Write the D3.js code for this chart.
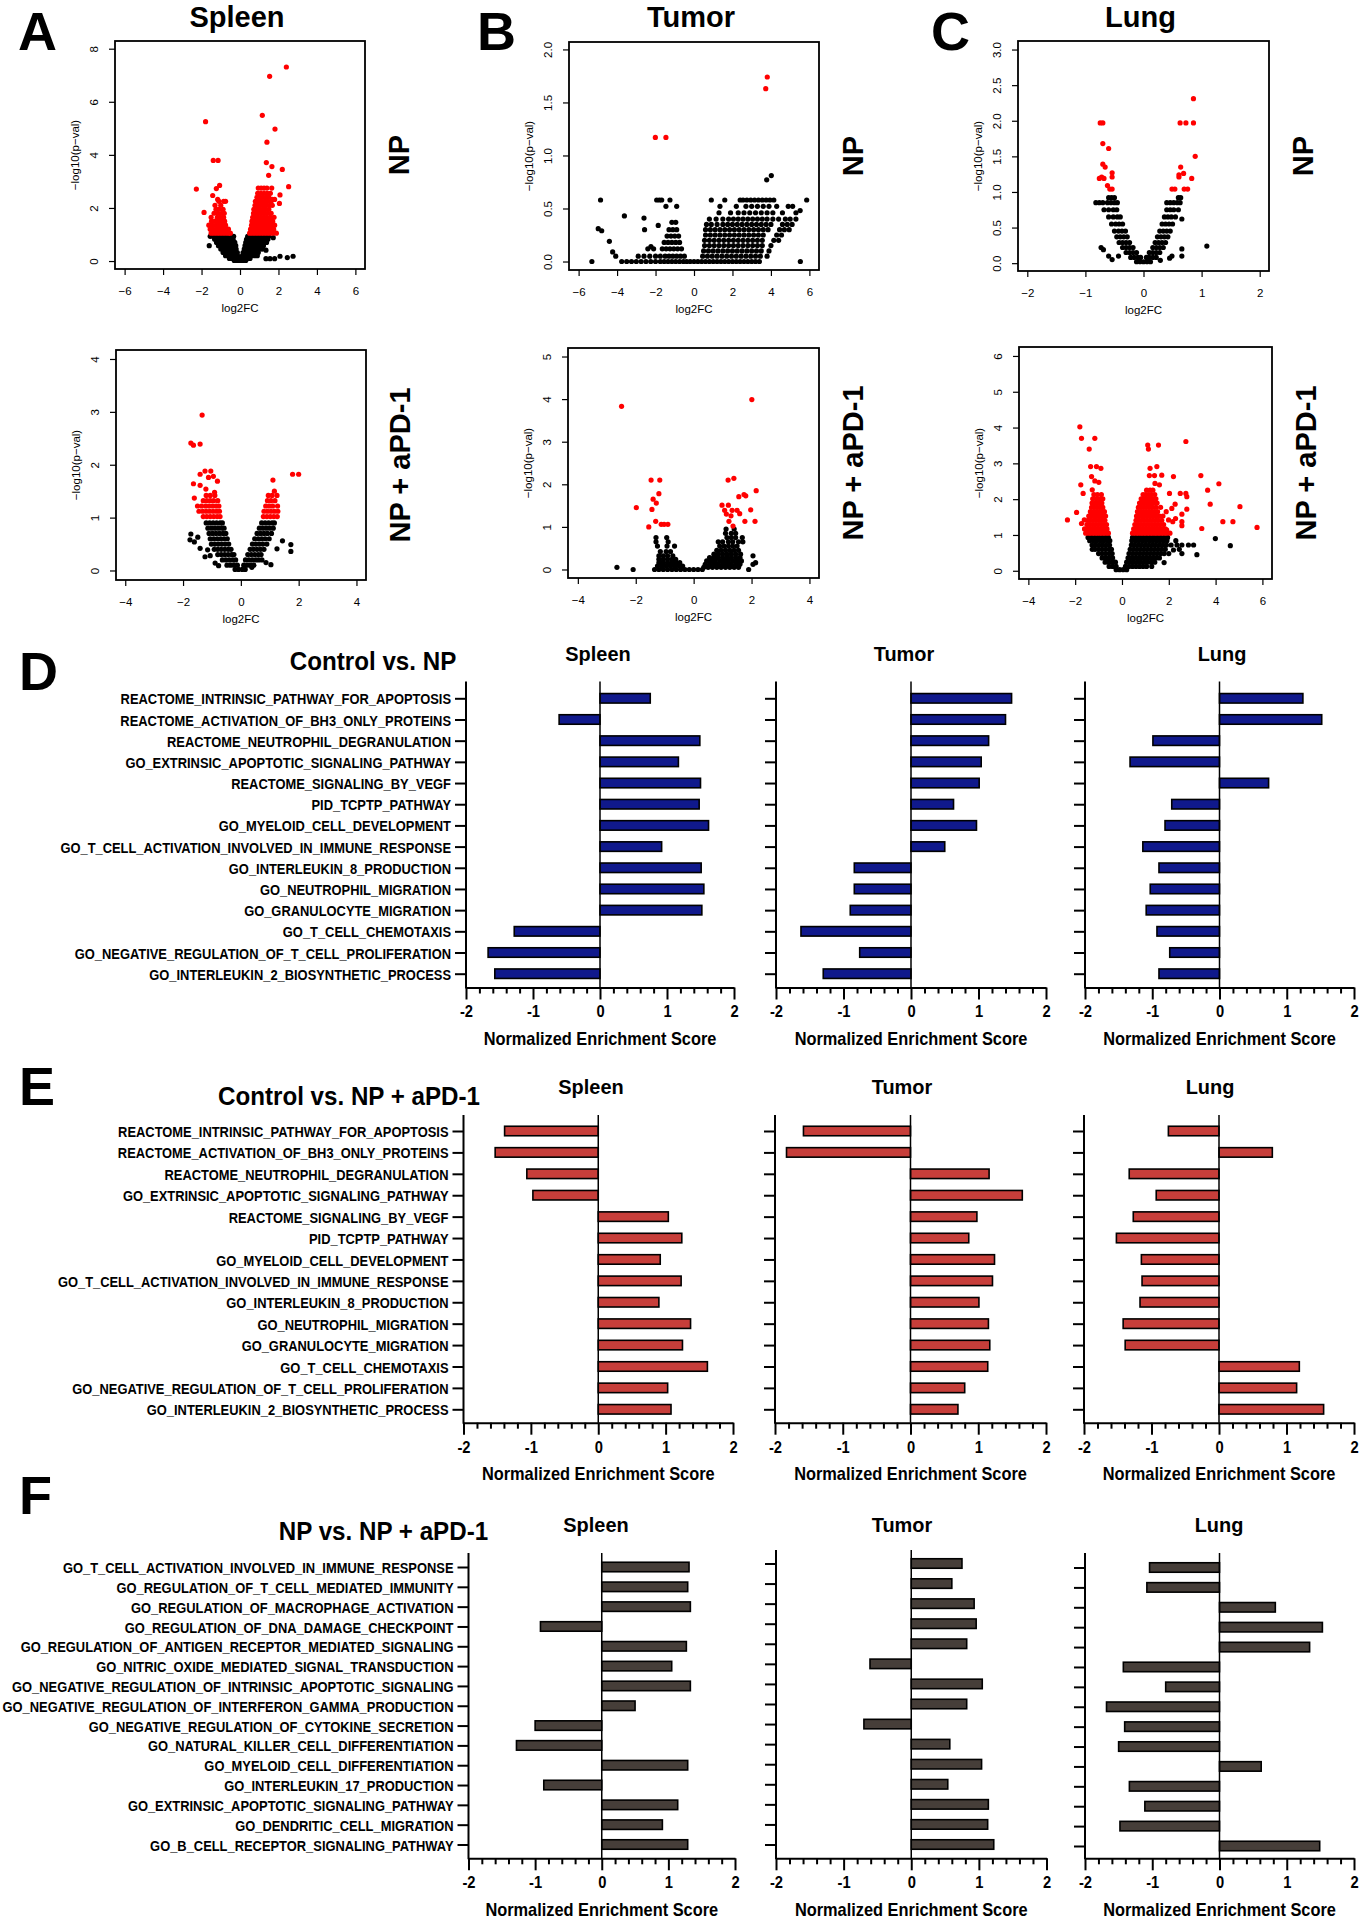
<!DOCTYPE html>
<html>
<head>
<meta charset="utf-8">
<script src="https://cdn.jsdelivr.net/npm/d3@7"></script>
<style>
  body { margin: 0; background: #fff; }
  svg { display: block; }
</style>
</head>
<body>
<script>
// ---------- volcano data: each row = [-log10(p), log2FC, log2FC, ...] ----------
const spleenNP = [
  [0.02, -0.3,-0.18,-0.06,0.06,0.18,0.3],
  [0.09, 1.35,1.56,1.8],
  [0.1, -0.55,-0.42,-0.3,-0.12,0.1,0.24,0.38,0.52],
  [0.13, 2.46],
  [0.18, 2.08,2.76],
  [0.2, -0.75,-0.6,-0.45,-0.3,-0.12,0.12,0.28,0.44,0.6,0.76,0.9],
  [0.32, -0.88,-0.72,-0.56,-0.4,-0.25,-0.14,0.16,0.3,0.46,0.62,0.78,0.95],
  [0.41, 1.35],
  [0.45, -1.0,-0.84,-0.68,-0.52,-0.36,-0.2,0.22,0.38,0.54,0.7,0.86,1.02,1.15],
  [0.58, -1.6,-1.12,-0.96,-0.8,-0.64,-0.48,-0.32,-0.22,0.26,0.42,0.58,0.74,0.9,1.06,1.22],
  [0.7, -1.22,-1.06,-0.9,-0.74,-0.58,-0.42,-0.27,0.3,0.46,0.62,0.78,0.94,1.1,1.26,1.38],
  [0.82, -1.32,-1.16,-1.0,-0.84,-0.68,-0.52,-0.36,0.34,0.5,0.66,0.82,0.98,1.14,1.3,1.45],
  [0.88, 1.73],
  [0.93, -1.55,-1.4,-1.24,-1.08,-0.92,-0.76,-0.6,-0.44,-0.33,0.4,0.56,0.72,0.88,1.04,1.2,1.36,1.5],
  [1.05, -1.5,-1.35,-1.2,-1.05,-0.9,-0.75,-0.6,-0.5,0.5,0.65,0.8,0.95,1.1,1.25,1.4,1.55,1.7,1.89],
  [1.2, -1.55,-1.4,-1.22,-1.05,-0.88,-0.72,-0.6,0.55,0.7,0.85,1.0,1.15,1.3,1.45,1.6,1.75],
  [1.35, -1.62,-1.45,-1.25,-1.1,-0.92,-0.75,0.6,0.75,0.9,1.05,1.2,1.35,1.5,1.65,1.8],
  [1.5, -1.48,-1.3,-1.12,-0.95,-0.8,0.62,0.78,0.92,1.08,1.22,1.38,1.52,1.7],
  [1.65, -1.5,-1.18,-1.02,-0.85,0.66,0.8,0.95,1.1,1.25,1.4,1.58,1.77],
  [1.8, -1.35,-1.15,-0.95,-0.82,0.7,0.85,1.0,1.15,1.3,1.45,1.62],
  [1.83, -1.87],
  [1.95, -1.25,-1.1,-0.88,0.72,0.88,1.02,1.18,1.32,1.5],
  [2.1, -1.3,-1.0,0.78,0.92,1.08,1.22,1.38,1.55,1.68],
  [2.17, 2.05],
  [2.25, -1.1,-0.85,-0.75,0.8,0.95,1.1,1.28,1.45,1.62],
  [2.32, -1.16,1.68,1.8],
  [2.4, 0.88,1.02,1.18,1.35,1.5],
  [2.47, -1.42],
  [2.49, 2.08],
  [2.55, 0.92,1.08,1.25,1.42,1.58],
  [2.71, -2.27],
  [2.73, -1.23],
  [2.75, 0.95,1.1,1.25,1.4,1.65],
  [2.8, 2.53],
  [2.85, -1.06],
  [3.23, 1.49],
  [3.45, 2.2],
  [3.56, 1.66],
  [3.71, 1.37],
  [3.79, -1.39,-1.14],
  [4.48, 1.4],
  [4.97, 1.82],
  [5.25, -1.79],
  [5.49, 1.16],
  [6.96, 1.54],
  [7.31, 2.41]
];

const tumorNP = [
  [0, -5.31,-3.76,-3.5,-3.25,-3.0,-2.75,-2.5,-2.25,-2.0,-1.75,-1.55,-1.35,-1.15,-0.95,-0.75,-0.55,-0.38,-0.2,0,0.2,0.4,0.6,0.8,1.0,1.2,1.4,1.6,1.8,2.0,2.2,2.4,2.6,2.8,3.0,3.2,3.4,5.53],
  [0.05, -4.07,-2.9,-2.6,-2.3,-2.0,-1.75,-1.5,-1.3,-1.1,-0.9,-0.7,-0.5,0.45,0.7,0.95,1.2,1.45,1.7,1.95,2.2,2.45,2.7,2.95,3.2,3.45,3.8],
  [0.09, -4.23],
  [0.1, 0.5,0.75,1.0,1.25,1.5,1.75,2.0,2.25,2.5,2.75,3.0,3.25,3.5,3.9],
  [0.12, -2.4,-2.1,-1.65,-1.45,-1.25,-1.05,-0.85,-0.65],
  [0.14, -2.24],
  [0.15, 0.55,0.8,1.05,1.3,1.55,1.8,2.05,2.3,2.55,2.8,3.05,3.3,3.55,4.0],
  [0.18, -1.55,-1.35,-1.15,-0.95,-0.75],
  [0.19, -4.4],
  [0.2, 0.55,0.8,1.05,1.3,1.55,1.8,2.05,2.3,2.55,2.8,3.05,3.3,3.55,4.15,4.4],
  [0.24, -1.4,-1.2,-1.0,-0.8],
  [0.25, 0.6,0.85,1.1,1.35,1.6,1.85,2.1,2.35,2.6,2.85,3.1,3.35,3.6,4.3,4.55],
  [0.29, -4.8],
  [0.3, -2.57,-1.3,-1.1,-0.9,0.6,0.85,1.1,1.35,1.6,1.85,2.1,2.35,2.6,2.85,3.1,3.35,3.6,3.85,4.45,4.7,4.95],
  [0.31, -4.98],
  [0.34, -1.86],
  [0.35, 0.65,0.9,1.2,1.5,1.75,2.0,2.25,2.5,2.75,3.0,3.25,3.5,3.75,4.0,4.6,4.85,5.1],
  [0.37, -1.15,-0.95],
  [0.4, 0.8,1.15,1.5,1.8,2.05,2.3,2.55,2.8,3.05,3.3,3.55,3.8,4.1,4.4,4.75,5.0,5.3],
  [0.41, -2.6],
  [0.43, -3.62],
  [0.46, 1.3,1.9,2.3,2.6,2.9,3.2,3.5,3.8,4.1,4.6,5.3],
  [0.48, 5.52],
  [0.52, -1.46,-0.9,1.35,2.2,2.7,3.0,3.3,3.6,3.9,4.3,4.9,5.13],
  [0.58, -4.86,-1.94,-1.8,-1.68,-1.25,0.9,1.6,2.4,2.55,2.75,2.95,3.15,3.35,3.55,3.75,3.95,4.15,5.86],
  [0.77, 3.78],
  [0.81, 4.02],
  [1.17, -2.01,-1.46],
  [1.63, 3.73],
  [1.74, 3.81]
];

const lungNP = [
  [0.02, -0.12,-0.06,0,0.06,0.12],
  [0.04, 0.29],
  [0.05, -0.54],
  [0.07, 0.45],
  [0.08, -0.22,-0.16,-0.1,-0.05,0.05,0.1,0.16,0.22],
  [0.1, -0.6,-0.43,0.49,0.66],
  [0.15, -0.3,-0.24,-0.18,-0.12,0.1,0.16,0.22,0.28],
  [0.19, -0.69],
  [0.2, 0.66],
  [0.22, -0.73,-0.36,-0.3,-0.24,-0.18,0.16,0.22,0.28,0.34],
  [0.24, 1.09],
  [0.29, -0.42,-0.36,-0.3,-0.24,0.2,0.26,0.32,0.38],
  [0.37, -0.46,-0.4,-0.34,-0.28,0.24,0.3,0.36,0.42],
  [0.45, -0.5,-0.43,-0.37,-0.31,0.28,0.34,0.4,0.46],
  [0.55, -0.55,-0.48,-0.42,-0.36,0.32,0.38,0.44,0.5],
  [0.62, 0.66],
  [0.65, -0.6,-0.52,-0.45,-0.4,0.36,0.42,0.48,0.55],
  [0.75, -0.68,-0.6,-0.52,-0.46,0.4,0.46,0.52,0.6],
  [0.85, -0.82,-0.76,-0.7,-0.62,-0.56,-0.5,-0.45,0.4,0.46,0.52,0.58,0.63],
  [0.92, -0.6,-0.55,-0.5,0.6,0.64],
  [1.04, -0.58,-0.54,0.49,0.54,0.7,0.76],
  [1.09, -0.62],
  [1.19, -0.76,-0.68,0.83],
  [1.21, -0.72,-0.54,0.61],
  [1.24, 0.61],
  [1.26, 0.69],
  [1.27, -0.54],
  [1.35, -0.66,0.64],
  [1.39, -0.7],
  [1.5, 0.89],
  [1.61, -0.6],
  [1.68, -0.7],
  [1.97, -0.745,-0.7,0.63,0.73,0.86],
  [2.31, 0.86]
];

const spleenAPD = [
  [0.02, -0.2,-0.08,0.05,0.15],
  [0.06, 0.38],
  [0.09, -0.77],
  [0.1, -0.48,-0.36,-0.24,-0.12,0.1,0.22,0.34,0.45],
  [0.11, 1.04],
  [0.14, -0.89],
  [0.15, 0.87],
  [0.2, -0.64,-0.52,-0.4,-0.28,-0.18,0.16,0.28,0.4,0.52,0.62,0.73],
  [0.26, -1.24],
  [0.28, -1.06],
  [0.3, -0.8,-0.68,-0.56,-0.44,-0.32,-0.24,0.24,0.36,0.48,0.6,0.7],
  [0.36, 1.73],
  [0.39, -1.15],
  [0.4, -0.92,-0.8,-0.68,-0.56,-0.44,-0.34,0.32,0.44,0.56,0.68,0.8],
  [0.41, 1.25],
  [0.42, -1.41],
  [0.49, 1.73],
  [0.5, -1.02,-0.9,-0.78,-0.66,-0.54,-0.42,0.4,0.52,0.64,0.76,0.9],
  [0.54, -1.61],
  [0.56, 1.44],
  [0.58, -1.76],
  [0.6, -1.06,-0.94,-0.82,-0.7,-0.58,-0.47,0.48,0.6,0.72,0.84,0.98],
  [0.63, -1.49],
  [0.69, -1.73],
  [0.7, -1.1,-0.98,-0.86,-0.74,-0.62,-0.52,0.56,0.68,0.8,0.92,1.06],
  [0.8, -1.14,-1.02,-0.9,-0.78,-0.66,-0.58,0.64,0.76,0.88,1.0,1.12],
  [0.9, -1.2,-1.08,-0.96,-0.84,-0.72,-0.64,0.72,0.84,0.96,1.08,1.16],
  [1.02, -1.3,-1.18,-1.06,-0.94,-0.82,-0.72,0.78,0.9,1.02,1.14,1.26],
  [1.12, -1.45,-1.32,-1.2,-1.08,-0.96,-0.84,-0.74,0.8,0.92,1.04,1.16,1.28],
  [1.22, -1.5,-1.36,-1.22,-1.1,-0.98,-0.86,-0.76,0.86,0.98,1.1,1.27],
  [1.32, -1.3,-1.18,-1.06,-0.94,-0.8,0.92,1.04,1.18],
  [1.37, -1.61],
  [1.42, -1.2,-1.06,-0.9,0.95,1.08,1.25],
  [1.48, -0.91],
  [1.5, 1.16],
  [1.54, -1.21],
  [1.61, -1.41],
  [1.64, -1.64],
  [1.69, -0.81],
  [1.71, 1.11],
  [1.76, -1.12],
  [1.78, -0.95],
  [1.82, -1.41,1.79,2.0],
  [1.88, -1.24,-1.04],
  [2.37, -1.64],
  [2.39, -1.41],
  [2.41, -1.73],
  [2.94, -1.34]
];

const tumorAPD = [
  [0, -2.09,-1.35,-1.2,-1.05,-0.9,-0.75,-0.6,-0.45,-0.3,-0.15,0,0.15,0.3,1.9],
  [0.05, -2.65,0.35,0.5,0.65,0.8,0.95,1.1,1.25,1.4,1.55],
  [0.08, -1.25,-1.1,-0.95,-0.8,-0.65,-0.5,-0.38],
  [0.12, 0.4,0.55,0.7,0.85,1.0,1.15,1.3,1.45,1.6,2.05],
  [0.16, -1.2,-1.05,-0.9,-0.75,-0.6,-0.48,2.14],
  [0.2, 0.45,0.6,0.75,0.9,1.05,1.2,1.35,1.5,1.65],
  [0.24, -1.2,-1.05,-0.9,-0.75,-0.62],
  [0.28, 0.55,0.7,0.85,1.0,1.15,1.3,1.45,1.6],
  [0.32, -1.2,-1.05,-0.9,-0.72,2.05],
  [0.36, 0.7,0.85,1.0,1.15,1.3,1.45,1.62],
  [0.42, -1.15,-0.95,-0.8],
  [0.45, 0.8,0.95,1.1,1.25,1.4,1.55],
  [0.55, -1.25,-0.92,-0.66,0.9,1.05,1.2,1.35,1.5],
  [0.65, -1.3,-0.88,0.85,1.0,1.2,1.35,1.55,1.7],
  [0.75, -1.3,-0.93,1.15,1.3,1.45,1.68],
  [0.85, 1.1,1.3,1.45],
  [0.95, 1.12,1.4],
  [1.0, -1.55],
  [1.02, 1.36],
  [1.06, -1.12,-1.02,-0.89],
  [1.13, -1.31,1.22,1.77,2.12],
  [1.26, 1.29],
  [1.3, 1.13],
  [1.31, 1.59],
  [1.39, 1.07,1.33,1.5],
  [1.4, 1.97],
  [1.41, -1.44],
  [1.45, -1.98],
  [1.51, 0.98,1.2],
  [1.56, -1.29],
  [1.65, -1.4],
  [1.71, 1.56],
  [1.73, 1.8],
  [1.76, 1.74],
  [1.78, -1.2],
  [1.85, 2.16],
  [2.1, -1.47,-1.17,1.19],
  [2.14, 1.39],
  [3.83, -2.49],
  [3.99, 2.01]
];

const lungAPD = [
  [0.03, -0.25,-0.1,0.05,0.2],
  [0.12, -0.55,-0.4,-0.25,0.15,0.3,0.45,0.6,0.75,0.9,1.05,1.27],
  [0.23, 1.8],
  [0.24, -0.72,-0.57,-0.42,-0.28,0.2,0.35,0.5,0.65,0.8,0.95,1.1,1.25,1.4],
  [0.36, -0.85,-0.7,-0.55,-0.4,0.26,0.41,0.56,0.71,0.86,1.01,1.16,1.31,1.46,1.6],
  [0.45, 3.2],
  [0.48, -1.0,-0.85,-0.7,-0.55,-0.42,0.3,0.45,0.6,0.75,0.9,1.05,1.2,1.35,1.5,1.65,1.8,2.0,2.56],
  [0.58, 2.2],
  [0.6, -1.27,-1.15,-1.0,-0.85,-0.7,-0.55,-0.45,0.35,0.5,0.65,0.8,0.95,1.1,1.25,1.4,1.55,1.7,1.85,2.45],
  [0.7, 4.63],
  [0.72, -1.28,-1.13,-0.98,-0.83,-0.68,-0.53,0.4,0.55,0.7,0.85,1.0,1.15,1.3,1.45,1.6,1.75,1.9,2.1,2.35,2.56,2.84,3.06],
  [0.84, -1.38,-1.23,-1.08,-0.93,-0.78,-0.63,-0.52,0.42,0.57,0.72,0.87,1.02,1.17,1.32,1.47,1.62,1.77,1.92,2.3],
  [0.9, 3.99],
  [0.93, -1.45,-1.3,-1.15,-1.0,-0.85,-0.7,-0.58,0.45,0.6,0.75,0.9,1.05,1.2,1.35,1.5,1.65,1.8,1.95],
  [1.05, -1.55,-1.42,-1.3,-1.18,-1.06,-0.94,-0.82,-0.7,-0.58,0.45,0.58,0.7,0.82,0.94,1.06,1.18,1.3,1.42,1.54,1.66,1.78,1.9,2.05],
  [1.14, 1.91],
  [1.17, -1.6,-1.48,-1.36,-1.24,-1.12,-1.0,-0.88,-0.76,-0.64,0.5,0.62,0.74,0.86,0.98,1.1,1.22,1.34,1.46,1.58,1.7,1.85],
  [1.18, 3.41],
  [1.21, 5.77],
  [1.26, 2.56],
  [1.29, -1.5,-1.38,-1.26,-1.14,-1.02,-0.9,-0.78,-0.66,0.55,0.67,0.79,0.91,1.03,1.15,1.27,1.39,1.51,1.63,1.78],
  [1.32, -1.73],
  [1.37, 2.17,2.56,4.31,4.74],
  [1.41, -1.45,-1.33,-1.21,-1.09,-0.97,-0.85,-0.73,0.6,0.72,0.84,0.96,1.08,1.2,1.32,1.44,1.56,1.7],
  [1.42, -2.33,-1.61,1.99],
  [1.46, 2.29],
  [1.53, -1.42,-1.3,-1.18,-1.06,-0.94,-0.82,-0.7,0.62,0.74,0.86,0.98,1.1,1.22,1.34,1.46,1.6,1.75],
  [1.58, 2.56],
  [1.63, -1.94],
  [1.65, -1.35,-1.22,-1.1,-0.98,-0.86,-0.75,0.66,0.78,0.9,1.02,1.14,1.26,1.38,1.52,1.89],
  [1.72, 2.77],
  [1.74, 2.13],
  [1.77, -1.3,-1.18,-1.06,-0.94,-0.82,0.7,0.82,0.94,1.06,1.18,1.3,1.45,1.65],
  [1.79, 5.04],
  [1.86, 2.27,3.77],
  [1.89, -1.28,-1.14,-1.0,-0.86,0.75,0.87,0.99,1.11,1.23,1.36,1.5],
  [2.01, -1.25,-1.1,-0.95,-0.82,0.82,0.94,1.06,1.18,1.3,1.45],
  [2.07, 2.77],
  [2.13, -1.2,-1.05,-0.88,0.9,1.02,1.14,1.26,1.4],
  [2.16, -1.66,2.03,2.49,2.73],
  [2.25, 1.05,1.2,1.32,3.66],
  [2.26, -1.27],
  [2.4, -1.76,1.6],
  [2.43, 4.14],
  [2.44, 1.41],
  [2.47, -0.99],
  [2.51, -1.16],
  [2.63, -1.3,2.2],
  [2.66, 1.17,1.39,3.37],
  [2.67, 1.7],
  [2.86, -0.9,1.2],
  [2.91, -1.34,-1.09,1.49],
  [3.4, -1.4,1.13],
  [3.51, 1.1,1.56],
  [3.61, 2.73],
  [3.7, -1.73,-1.16],
  [4.02, -1.8]
];

// volcano tick values
const ticksFC6 = [-6, -4, -2, 0, 2, 4, 6];
const ticksFC2 = [-2, -1, 0, 1, 2];
const ticksFC4 = [-4, -2, 0, 2, 4];
const ticksFC46 = [-4, -2, 0, 2, 4, 6];
const ticksP8 = [0, 2, 4, 6, 8];
const ticksP2 = [0, 0.5, 1, 1.5, 2];
const ticksP3 = [0, 0.5, 1, 1.5, 2, 2.5, 3];
const ticksP4 = [0, 1, 2, 3, 4];
const ticksP5 = [0, 1, 2, 3, 4, 5];
const ticksP6 = [0, 1, 2, 3, 4, 5, 6];

// ---------- GSEA data ----------
const tissues = ["Spleen", "Tumor", "Lung"];
const nesTicks = [-2, -1, 0, 1, 2];

const pathwaysDE = [
  "REACTOME_INTRINSIC_PATHWAY_FOR_APOPTOSIS",
  "REACTOME_ACTIVATION_OF_BH3_ONLY_PROTEINS",
  "REACTOME_NEUTROPHIL_DEGRANULATION",
  "GO_EXTRINSIC_APOPTOTIC_SIGNALING_PATHWAY",
  "REACTOME_SIGNALING_BY_VEGF",
  "PID_TCPTP_PATHWAY",
  "GO_MYELOID_CELL_DEVELOPMENT",
  "GO_T_CELL_ACTIVATION_INVOLVED_IN_IMMUNE_RESPONSE",
  "GO_INTERLEUKIN_8_PRODUCTION",
  "GO_NEUTROPHIL_MIGRATION",
  "GO_GRANULOCYTE_MIGRATION",
  "GO_T_CELL_CHEMOTAXIS",
  "GO_NEGATIVE_REGULATION_OF_T_CELL_PROLIFERATION",
  "GO_INTERLEUKIN_2_BIOSYNTHETIC_PROCESS"
];
const pathwaysF = [
  "GO_T_CELL_ACTIVATION_INVOLVED_IN_IMMUNE_RESPONSE",
  "GO_REGULATION_OF_T_CELL_MEDIATED_IMMUNITY",
  "GO_REGULATION_OF_MACROPHAGE_ACTIVATION",
  "GO_REGULATION_OF_DNA_DAMAGE_CHECKPOINT",
  "GO_REGULATION_OF_ANTIGEN_RECEPTOR_MEDIATED_SIGNALING",
  "GO_NITRIC_OXIDE_MEDIATED_SIGNAL_TRANSDUCTION",
  "GO_NEGATIVE_REGULATION_OF_INTRINSIC_APOPTOTIC_SIGNALING",
  "GO_NEGATIVE_REGULATION_OF_INTERFERON_GAMMA_PRODUCTION",
  "GO_NEGATIVE_REGULATION_OF_CYTOKINE_SECRETION",
  "GO_NATURAL_KILLER_CELL_DIFFERENTIATION",
  "GO_MYELOID_CELL_DIFFERENTIATION",
  "GO_INTERLEUKIN_17_PRODUCTION",
  "GO_EXTRINSIC_APOPTOTIC_SIGNALING_PATHWAY",
  "GO_DENDRITIC_CELL_MIGRATION",
  "GO_B_CELL_RECEPTOR_SIGNALING_PATHWAY"
];

const nesDSpleen = [0.75, -0.61, 1.49, 1.17, 1.50, 1.48, 1.62, 0.92, 1.51, 1.55, 1.52, -1.28, -1.67, -1.57];
const nesDTumor  = [1.49, 1.40, 1.15, 1.04, 1.01, 0.63, 0.97, 0.50, -0.84, -0.84, -0.90, -1.63, -0.76, -1.30];
const nesDLung   = [1.24, 1.52, -0.99, -1.33, 0.73, -0.71, -0.81, -1.14, -0.90, -1.03, -1.09, -0.93, -0.74, -0.90];

const nesESpleen = [-1.39, -1.53, -1.06, -0.97, 1.04, 1.24, 0.92, 1.23, 0.90, 1.37, 1.25, 1.62, 1.03, 1.08];
const nesETumor  = [-1.58, -1.83, 1.16, 1.65, 0.98, 0.86, 1.24, 1.21, 1.01, 1.15, 1.17, 1.14, 0.80, 0.70];
const nesELung   = [-0.75, 0.79, -1.33, -0.93, -1.27, -1.52, -1.15, -1.14, -1.17, -1.42, -1.39, 1.19, 1.15, 1.55];

const nesFSpleen = [1.31, 1.29, 1.33, -0.92, 1.27, 1.05, 1.33, 0.50, -1.00, -1.28, 1.29, -0.87, 1.14, 0.91, 1.29];
const nesFTumor  = [0.75, 0.60, 0.93, 0.96, 0.82, -0.61, 1.05, 0.82, -0.70, 0.57, 1.04, 0.54, 1.14, 1.13, 1.22];
const nesFLung   = [-1.04, -1.08, 0.83, 1.53, 1.34, -1.43, -0.80, -1.68, -1.41, -1.50, 0.62, -1.34, -1.11, -1.48, 1.49];

// ---------- drawing ----------
const svg = d3.select("body").append("svg")
  .attr("width", 1371).attr("height", 1920)
  .attr("font-family", "'Liberation Sans', Arial, Helvetica, sans-serif");

const rMinus = d => String(d).replace("-", "\u2212");

function boldText(x, y, str, size, sx, anchor) {
  return svg.append("text")
    .attr("transform", `translate(${x},${y}) scale(${sx},1)`)
    .attr("text-anchor", anchor || "middle")
    .attr("font-size", size).attr("font-weight", "bold")
    .text(str);
}

function volcano(p) {
  const [bx0, by0, bx1, by1] = p.box;
  const x = d3.scaleLinear().domain(p.xd).range([bx0, bx1]);
  const y = d3.scaleLinear().domain(p.yd).range([by1, by0]);
  const pts = p.rows.flatMap(r => r.slice(1).map(v => ({ fc: v, lp: r[0] })));
  pts.sort((a, b) => (a.lp >= 1) - (b.lp >= 1));
  const g = svg.append("g");

  g.append("g").selectAll("circle").data(pts).join("circle")
    .attr("cx", d => x(d.fc)).attr("cy", d => y(d.lp)).attr("r", 2.6)
    .attr("fill", d => d.lp >= 1 ? "#ff0000" : "#000000");

  g.append("rect").attr("x", bx0).attr("y", by0)
    .attr("width", bx1 - bx0).attr("height", by1 - by0)
    .attr("fill", "none").attr("stroke", "#000").attr("stroke-width", 1.8);

  const xa = g.append("g").attr("transform", `translate(0,${by1})`)
    .call(d3.axisBottom(x).tickValues(p.xt).tickSize(6).tickPadding(11.5).tickFormat(rMinus));
  xa.select(".domain").remove();
  xa.attr("font-size", 11.5).attr("font-family", null);
  xa.selectAll(".tick line").attr("stroke-width", 1.2);

  const ya = g.append("g").attr("transform", `translate(${bx0},0)`)
    .call(d3.axisLeft(y).tickValues(p.yt).tickSize(6).tickFormat(p.yf));
  ya.select(".domain").remove();
  ya.attr("font-size", 11.5).attr("font-family", null);
  ya.selectAll(".tick line").attr("stroke-width", 1.2);
  ya.selectAll(".tick text").attr("x", null).attr("dy", null)
    .attr("text-anchor", "middle").attr("transform", "translate(-17,0) rotate(-90)");

  const cx = (bx0 + bx1) / 2, cy = (by0 + by1) / 2;
  g.append("text").attr("x", cx).attr("y", by1 + 43).attr("text-anchor", "middle")
    .attr("font-size", 11.5).text("log2FC");
  g.append("text").attr("transform", `translate(${bx0 - 36},${cy}) rotate(-90)`)
    .attr("text-anchor", "middle").attr("font-size", 11.5).text("\u2212log10(p\u2212val)");
  g.append("text").attr("transform", `translate(${bx1 + 34},${cy}) rotate(-90)`)
    .attr("text-anchor", "middle").attr("dominant-baseline", "central")
    .attr("font-size", 29).attr("font-weight", "bold").text(p.side);
  if (p.title) {
    g.append("text").attr("x", cx - 3).attr("y", 27).attr("text-anchor", "middle")
      .attr("font-size", 29).attr("font-weight", "bold").text(p.title);
    g.append("text").attr("x", p.lx).attr("y", 50)
      .attr("font-size", 54).attr("font-weight", "bold").text(p.letter);
  }
}

const f1 = d3.format("d"), f2 = d3.format(".1f");
const volcanoPanels = [
  { rows: spleenNP, box: [115, 41, 365, 269], xd: [-6.5, 6.5], yd: [-0.3, 8.29], xt: ticksFC6, yt: ticksP8, yf: f1, title: tissues[0], letter: "A", lx: 18, side: "NP" },
  { rows: tumorNP, box: [569, 42, 819, 270], xd: [-6.5, 6.5], yd: [-0.08, 2.07], xt: ticksFC6, yt: ticksP2, yf: f2, title: tissues[1], letter: "B", lx: 477, side: "NP" },
  { rows: lungNP, box: [1018, 41, 1269, 271], xd: [-2.16, 2.16], yd: [-0.11, 3.12], xt: ticksFC2, yt: ticksP3, yf: f2, title: tissues[2], letter: "C", lx: 931, side: "NP" },
  { rows: spleenAPD, box: [116, 350, 366, 580], xd: [-4.32, 4.33], yd: [-0.18, 4.17], xt: ticksFC4, yt: ticksP4, yf: f1, side: "NP + aPD-1" },
  { rows: tumorAPD, box: [568, 348, 819, 578], xd: [-4.34, 4.33], yd: [-0.2, 5.2], xt: ticksFC4, yt: ticksP5, yf: f1, side: "NP + aPD-1" },
  { rows: lungAPD, box: [1019, 347, 1272, 579], xd: [-4.4, 6.41], yd: [-0.23, 6.25], xt: ticksFC46, yt: ticksP6, yf: f1, side: "NP + aPD-1" }
];
volcanoPanels.forEach(volcano);

// width scale for the condensed pathway labels
const probe = svg.append("text").attr("font-size", 15.5).attr("font-weight", "bold")
  .text("GO_T_CELL_ACTIVATION_INVOLVED_IN_IMMUNE_RESPONSE");
const labelSX = 391 / probe.node().getComputedTextLength();
probe.remove();

function gsea(s) {
  boldText(19, s.letterY, s.letter, 54, 1, "start");
  boldText(s.titleX, s.titleY, s.title, 26, 0.93);
  tissues.forEach((t, k) => {
    const x = d3.scaleLinear().domain([-2, 2]).range(s.xr[k]);
    const y = d3.scalePoint().domain(s.labels).range(s.rows[k]);
    const g = svg.append("g");
    const data = s.labels.map((l, i) => ({ l, v: s.values[k][i] }));

    g.selectAll("rect").data(data).join("rect")
      .attr("x", d => Math.min(x(0), x(d.v))).attr("y", d => y(d.l) - 4.75)
      .attr("width", d => Math.abs(x(d.v) - x(0))).attr("height", 9.5)
      .attr("fill", s.color).attr("stroke", "#000").attr("stroke-width", 1.6);

    g.append("line").attr("x1", x(0)).attr("x2", x(0))
      .attr("y1", s.top[k]).attr("y2", s.axisY)
      .attr("stroke", "#000").attr("stroke-width", 1.5);

    // category axis
    const ya = g.append("g").attr("transform", `translate(${s.xr[k][0]},0)`)
      .call(d3.axisLeft(y).tickSize(11).tickSizeOuter(0));
    ya.select(".domain").remove();
    ya.selectAll(".tick line").attr("stroke-width", 2);
    ya.attr("font-family", null).attr("font-size", 15.5).attr("font-weight", "bold");
    if (k === 0) {
      ya.selectAll(".tick text").attr("x", 0).attr("dy", "0.36em")
        .attr("transform", `translate(-15,0) scale(${labelSX},1)`);
    } else {
      ya.selectAll(".tick text").remove();
    }
    g.append("line").attr("x1", s.xr[k][0]).attr("x2", s.xr[k][0])
      .attr("y1", s.top[k]).attr("y2", s.axisY + 1)
      .attr("stroke", "#000").attr("stroke-width", 2);

    // NES axis: minor then major ticks
    const minor = g.append("g").attr("transform", `translate(0,${s.axisY})`)
      .call(d3.axisBottom(x).tickValues(d3.range(-2, 2.01, 0.2).filter(v => Math.abs(v - Math.round(v)) > 0.01))
        .tickSize(6).tickFormat(""));
    minor.select(".domain").remove();
    minor.selectAll(".tick line").attr("stroke-width", 2);
    const major = g.append("g").attr("transform", `translate(0,${s.axisY})`)
      .call(d3.axisBottom(x).tickValues(nesTicks).tickSize(12).tickSizeOuter(0).tickFormat(d => String(d)));
    major.select(".domain").attr("stroke-width", 2);
    major.selectAll(".tick line").attr("stroke-width", 2);
    major.attr("font-family", null).attr("font-size", 16).attr("font-weight", "bold");
    major.selectAll(".tick text").attr("y", 30).attr("dy", null)
      .attr("transform", "scale(0.92,1)");

    boldText(x(0), s.axisY + 57.5, "Normalized Enrichment Score", 18, 0.91);
    boldText(s.hx[k], s.headerY, t, 21, 0.95);
  });
}

const gseaSections = [
  { letter: "D", letterY: 690, title: "Control vs. NP", titleX: 373, titleY: 670,
    labels: pathwaysDE, values: [nesDSpleen, nesDTumor, nesDLung], color: "#10198c",
    xr: [[466, 734], [776, 1046], [1085, 1354]], hx: [598, 904, 1222], headerY: 661,
    top: [681.5, 681.5, 681.5], rows: [[698.3, 973.7], [698.3, 973.7], [698.3, 973.7]], axisY: 987.5 },
  { letter: "E", letterY: 1105, title: "Control vs. NP + aPD-1", titleX: 349, titleY: 1105,
    labels: pathwaysDE, values: [nesESpleen, nesETumor, nesELung], color: "#c73e3a",
    xr: [[463.5, 733], [775, 1046], [1084, 1354]], hx: [591, 902, 1210], headerY: 1094,
    top: [1115, 1115, 1115], rows: [[1131, 1409.3], [1131, 1409.3], [1131, 1409.3]], axisY: 1422.7 },
  { letter: "F", letterY: 1514, title: "NP vs. NP + aPD-1", titleX: 383.5, titleY: 1540,
    labels: pathwaysF, values: [nesFSpleen, nesFTumor, nesFLung], color: "#463e39",
    xr: [[468.5, 735], [776, 1046.5], [1085, 1354]], hx: [596, 902, 1219], headerY: 1532,
    top: [1553, 1550, 1553], rows: [[1567, 1844.5], [1563.5, 1844.5], [1567.5, 1846]], axisY: 1858.3 }
];
gseaSections.forEach(gsea);
</script>
</body>
</html>
